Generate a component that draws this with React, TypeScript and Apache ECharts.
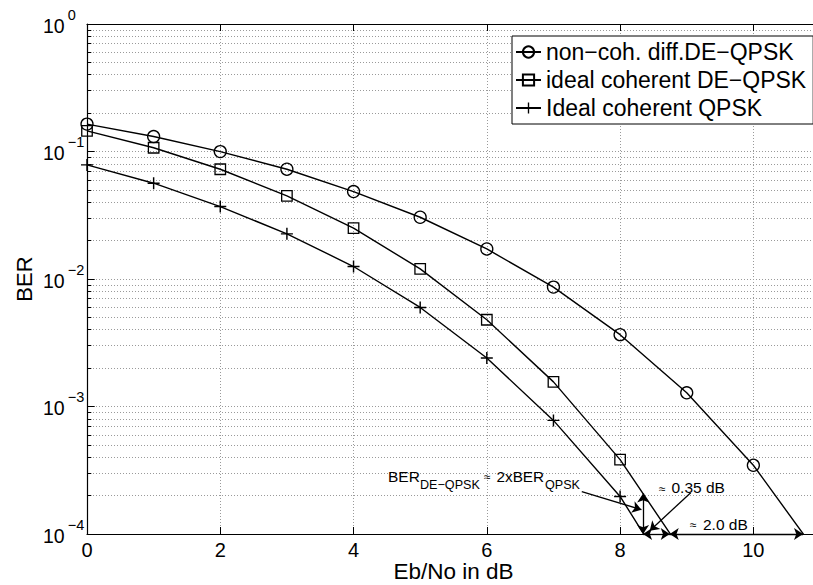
import React, { useEffect, useRef } from 'react';
import * as echarts from 'echarts';

const FONT = '"Liberation Sans", Arial, Helvetica, sans-serif';

// Eb/No (dB) sample points
const ebNo = [0, 1, 2, 3, 4, 5, 6, 7, 8, 9, 10, 11];
// BER values
const berNonCoh = [0.164, 0.131, 0.0998, 0.0726, 0.0485, 0.0305, 0.0172, 0.00864, 0.00366, 0.00128, 0.000346, 0.000066];
const berDeQpsk = [0.145, 0.107, 0.0726, 0.0449, 0.0251, 0.012, 0.00479, 0.00156, 0.000383, 0.0000645];
const berQpsk = [0.0785, 0.0564, 0.037, 0.0226, 0.01253, 0.00598, 0.0024, 0.000778, 0.000197, 0.000029];
const seriesNames = ['non−coh. diff.DE−QPSK', 'ideal coherent DE−QPSK', 'Ideal coherent QPSK'];

// axis ticks
const xMin = 0;
const xMax = 11;
const xInterval = 2;
const yMin = 1e-4;
const yMax = 1;
const yMinorTicks = [
  2e-4, 3e-4, 4e-4, 5e-4, 6e-4, 7e-4, 8e-4, 9e-4,
  2e-3, 3e-3, 4e-3, 5e-3, 6e-3, 7e-3, 8e-3, 9e-3,
  2e-2, 3e-2, 4e-2, 5e-2, 6e-2, 7e-2, 8e-2, 9e-2,
  2e-1, 3e-1, 4e-1, 5e-1, 6e-1, 7e-1, 8e-1, 9e-1,
];

// annotation arrows (data coordinates)
const singleArrows = [
  [[7.425, 2.15e-4], [8.32, 1.55e-4]],
  [[9.06, 2.11e-4], [8.445, 1.06e-4]],
];
const doubleArrows = [
  [[8.345, 1e-4], [8.345, 2.08e-4]],
  [[8.345, 1e-4], [8.745, 1e-4]],
  [[8.745, 1e-4], [10.745, 1e-4]],
];

const CROSS = 'path://M4.4,0H5.6V4.4H10V5.6H5.6V10H4.4V5.6H0V4.4H4.4Z';

const toPairs = (vals: number[]) => vals.map((v, i) => [ebNo[i], v]);

export default function App() {
  const ref = useRef<HTMLDivElement>(null);

  useEffect(() => {
    if (!ref.current) return;
    const chart = echarts.init(ref.current, undefined, { renderer: 'svg' });

    const gridLine = { show: true, lineStyle: { color: '#9a9a9a', width: 1, type: [1, 2] } };
    const axisLine = { show: true, onZero: false, lineStyle: { color: '#000', width: 1.2 } };

    const lineSeries = (name: string, vals: number[], symbol: string, size: number, filled: boolean) => ({
      type: 'line',
      name,
      data: toPairs(vals),
      symbol,
      symbolSize: size,
      showAllSymbol: true,
      clip: true,
      lineStyle: { color: '#000', width: 1.4 },
      itemStyle: filled
        ? { color: '#000', borderWidth: 0 }
        : { color: 'transparent', borderColor: '#000', borderWidth: 1.3 },
      emphasis: { disabled: true },
      z: 3,
    });

    const texts: any[] = [
      { text: 'BER', x: 388, y: 476, fontSize: 15.5 },
      { text: 'DE−QPSK', x: 420, y: 484.5, fontSize: 12.6 },
      { text: '≈', x: 484, y: 477, fontSize: 12 },
      { text: '2xBER', x: 496.5, y: 476, fontSize: 15.3 },
      { text: 'QPSK', x: 545, y: 484.5, fontSize: 12.6 },
      { text: '≈', x: 659, y: 488.5, fontSize: 12 },
      { text: '0.35 dB', x: 671.5, y: 487.3, fontSize: 15.5 },
      { text: '≈', x: 690, y: 525, fontSize: 12 },
      { text: '2.0 dB', x: 703, y: 524, fontSize: 15.5 },
    ];

    chart.setOption({
      animation: false,
      backgroundColor: '#fff',
      textStyle: { fontFamily: FONT, color: '#000' },
      grid: { left: 87, top: 24, right: -7, bottom: 51, containLabel: false, outerBoundsMode: 'none' },
      legend: {
        data: seriesNames,
        orient: 'vertical',
        left: 512,
        top: 36,
        padding: [4, 7, 4, 3],
        itemGap: 4,
        itemWidth: 25,
        itemHeight: 14,
        backgroundColor: '#fff',
        borderColor: '#000',
        borderWidth: 1,
        borderRadius: 0,
        textStyle: { fontFamily: FONT, fontSize: 23, color: '#000', lineHeight: 24 },
        selectedMode: false,
      },
      xAxis: [
        {
          type: 'value',
          min: xMin,
          max: xMax,
          interval: xInterval,
          position: 'bottom',
          axisLine,
          axisTick: { inside: true, length: 7, lineStyle: { color: '#000' } },
          axisLabel: { fontSize: 20, color: '#000', margin: 6, showMaxLabel: false, fontFamily: FONT },
          splitLine: gridLine,
          name: 'Eb/No in dB',
          nameLocation: 'middle',
          nameGap: 26,
          nameMoveOverlap: false,
          nameTextStyle: { fontSize: 22.5, color: '#000', fontFamily: FONT },
        },
        {
          type: 'value',
          min: xMin,
          max: xMax,
          interval: xInterval,
          position: 'top',
          axisLine,
          axisTick: { inside: true, length: 7, lineStyle: { color: '#000' } },
          axisLabel: { show: false },
          splitLine: { show: false },
        },
      ],
      yAxis: [
        {
          type: 'log',
          logBase: 10,
          min: yMin,
          max: yMax,
          position: 'left',
          axisLine,
          axisTick: { inside: true, length: 7.7, lineStyle: { color: '#000' } },
          axisLabel: {
            align: 'left',
            margin: 44,
            formatter: (v: number) => {
              const e = Math.round(Math.log10(v));
              return '{b|10}{e|' + (e < 0 ? '−' + Math.abs(e) : String(e)) + '}';
            },
            rich: {
              b: { fontSize: 19.5, lineHeight: 38, color: '#000', fontFamily: FONT, padding: [3, 0, 0, 0] },
              e: { fontSize: 14.5, lineHeight: 16, verticalAlign: 'top', color: '#000', fontFamily: FONT, padding: [2, 0, 0, 3] },
            },
          },
          splitLine: gridLine,
          name: 'BER',
          nameLocation: 'middle',
          nameGap: 52,
          nameMoveOverlap: false,
          nameTextStyle: { fontSize: 22, color: '#000', fontFamily: FONT },
        },
        {
          type: 'log',
          logBase: 10,
          min: yMin,
          max: yMax,
          position: 'left',
          axisLine: { show: false },
          axisTick: { show: true, inside: true, length: 4.3, customValues: yMinorTicks, lineStyle: { color: '#000' } },
          axisLabel: { show: false },
          splitLine: gridLine,
        },
      ],
      graphic: texts.map((t) => ({
        type: 'text',
        x: t.x,
        y: t.y,
        z: 10,
        silent: true,
        style: {
          text: t.text,
          fontSize: t.fontSize,
          fontFamily: FONT,
          fill: '#000',
          align: 'left',
          verticalAlign: 'middle',
        },
      })),
      series: [
        lineSeries(seriesNames[0], berNonCoh, 'circle', 12, false),
        lineSeries(seriesNames[1], berDeQpsk, 'rect', 10.5, false),
        lineSeries(seriesNames[2], berQpsk, CROSS, 12, true),
        {
          type: 'lines',
          coordinateSystem: 'cartesian2d',
          xAxisIndex: 0,
          yAxisIndex: 0,
          clip: false,
          silent: true,
          symbol: ['none', 'arrow'],
          symbolSize: 9,
          lineStyle: { color: '#000', width: 1.3, opacity: 1, curveness: 0 },
          data: singleArrows.map((c) => ({ coords: c })),
          z: 4,
        },
        {
          type: 'lines',
          coordinateSystem: 'cartesian2d',
          xAxisIndex: 0,
          yAxisIndex: 0,
          clip: false,
          silent: true,
          symbol: ['arrow', 'arrow'],
          symbolSize: 9,
          lineStyle: { color: '#000', width: 1.3, opacity: 1, curveness: 0 },
          data: doubleArrows.map((c) => ({ coords: c })),
          z: 4,
        },
      ],
    });

    return () => chart.dispose();
  }, []);

  return (
    <div
      ref={ref}
      style={{ position: 'absolute', left: 0, top: 0, width: 813, height: 585, background: '#fff' }}
    />
  );
}
